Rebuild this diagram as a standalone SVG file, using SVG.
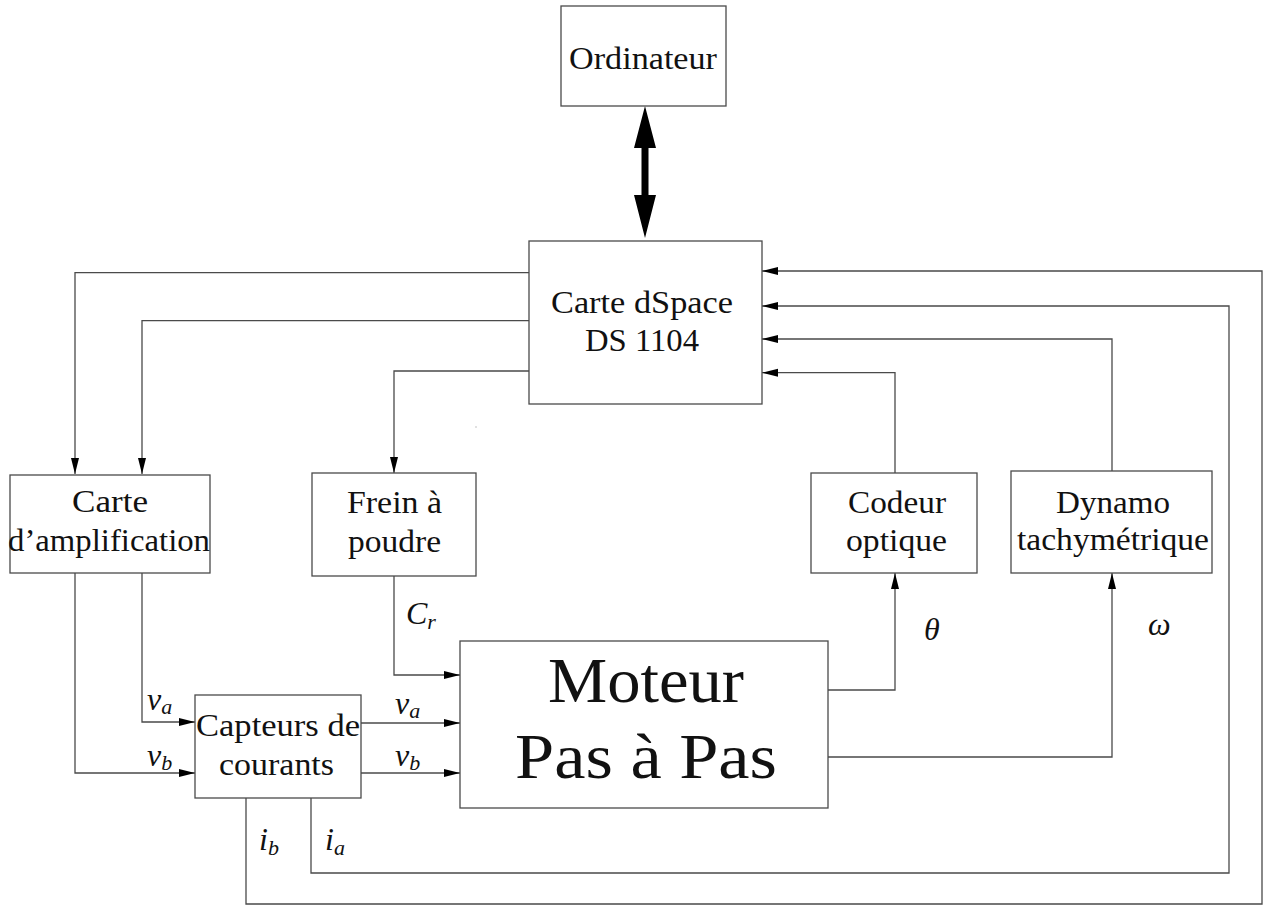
<svg xmlns="http://www.w3.org/2000/svg" width="1264" height="907" viewBox="0 0 1264 907">
<style>
.box{fill:#fff;stroke:#4a4a4a;stroke-width:1.3}
.lbl{font-family:"Liberation Serif","Times New Roman",serif;font-size:32px;fill:#111}
.big{font-family:"Liberation Serif","Times New Roman",serif;font-size:64px;fill:#111}
.m{font-family:"Liberation Serif","Times New Roman",serif;font-size:32px;font-style:italic;fill:#111}
.sub{font-size:22px}
.w{fill:none;stroke:#4a4a4a;stroke-width:1.3}
</style>
<defs>
<marker id="ah" markerUnits="userSpaceOnUse" markerWidth="17" markerHeight="9" refX="16" refY="4" orient="auto">
<path d="M0,0 L16,4 L0,8 z" fill="#000"/>
</marker>
</defs>
<rect width="1264" height="907" fill="#fff"/>
<g id="connectors">
<polygon points="645,106 656,148 648.5,148 648.5,195 656,195 645,238 634,195 641.5,195 641.5,148 634,148" fill="#000"/>
<polyline class="w" points="529,272.7 75,272.7 75,474" marker-end="url(#ah)"/>
<polyline class="w" points="529,320.7 142,320.7 142,474" marker-end="url(#ah)"/>
<polyline class="w" points="529,371 394,371 394,473" marker-end="url(#ah)"/>
<polyline class="w" points="75,573 75,773 195,773" marker-end="url(#ah)"/>
<polyline class="w" points="142,573 142,722 195,722" marker-end="url(#ah)"/>
<polyline class="w" points="361,723 460,723" marker-end="url(#ah)"/>
<polyline class="w" points="361,773 460,773" marker-end="url(#ah)"/>
<polyline class="w" points="394,576 394,675 460,675" marker-end="url(#ah)"/>
<polyline class="w" points="828,690 895,690 895,573" marker-end="url(#ah)"/>
<polyline class="w" points="828,757 1112,757 1112,573" marker-end="url(#ah)"/>
<polyline class="w" points="895,473 895,372.7 762,372.7" marker-end="url(#ah)"/>
<polyline class="w" points="1112,471 1112,339 762,339" marker-end="url(#ah)"/>
<polyline class="w" points="311,798 311,873 1229,873 1229,306 762,306" marker-end="url(#ah)"/>
<polyline class="w" points="246,798 246,904 1262,904 1262,271 762,271" marker-end="url(#ah)"/>
<rect x="475.5" y="426.5" width="1" height="1" fill="#888"/>
</g>
<g id="labels">
<text class="m" x="147" y="710">v<tspan class="sub" dy="4">a</tspan></text>
<text class="m" x="147" y="766">v<tspan class="sub" dy="4">b</tspan></text>
<text class="m" x="395" y="714">v<tspan class="sub" dy="4">a</tspan></text>
<text class="m" x="395" y="766">v<tspan class="sub" dy="4">b</tspan></text>
<text class="m" x="406" y="624">C<tspan class="sub" dy="5">r</tspan></text>
<text class="m" x="259" y="850">i<tspan class="sub" dy="5">b</tspan></text>
<text class="m" x="325" y="850">i<tspan class="sub" dy="5">a</tspan></text>
<text class="m" x="924" y="640">θ</text>
<text class="m" x="1148" y="635">ω</text>
</g>
<g id="ordinateur">
<rect class="box" x="561" y="6" width="165" height="100"/>
<text class="lbl" x="569" y="69" textLength="148" lengthAdjust="spacingAndGlyphs">Ordinateur</text>
</g>
<g id="dspace">
<rect class="box" x="529" y="241" width="233" height="163"/>
<text class="lbl" x="551" y="313" textLength="182" lengthAdjust="spacingAndGlyphs">Carte dSpace</text>
<text class="lbl" x="585" y="351" textLength="114" lengthAdjust="spacingAndGlyphs">DS 1104</text>
</g>
<g id="amplification">
<rect class="box" x="10" y="475" width="200" height="98"/>
<text class="lbl" x="72" y="512" textLength="76" lengthAdjust="spacingAndGlyphs">Carte</text>
<text class="lbl" x="8" y="551" textLength="202" lengthAdjust="spacingAndGlyphs">d’amplification</text>
</g>
<g id="frein">
<rect class="box" x="312" y="473" width="164" height="103"/>
<text class="lbl" x="347" y="513" textLength="95" lengthAdjust="spacingAndGlyphs">Frein à</text>
<text class="lbl" x="348" y="552" textLength="93" lengthAdjust="spacingAndGlyphs">poudre</text>
</g>
<g id="codeur">
<rect class="box" x="811" y="473" width="166" height="100"/>
<text class="lbl" x="848" y="513" textLength="98" lengthAdjust="spacingAndGlyphs">Codeur</text>
<text class="lbl" x="846" y="551" textLength="101" lengthAdjust="spacingAndGlyphs">optique</text>
</g>
<g id="dynamo">
<rect class="box" x="1011" y="471" width="201" height="102"/>
<text class="lbl" x="1056" y="513" textLength="114" lengthAdjust="spacingAndGlyphs">Dynamo</text>
<text class="lbl" x="1017" y="550" textLength="192" lengthAdjust="spacingAndGlyphs">tachymétrique</text>
</g>
<g id="capteurs">
<rect class="box" x="195" y="695" width="166" height="103"/>
<text class="lbl" x="196" y="736" textLength="164" lengthAdjust="spacingAndGlyphs">Capteurs de</text>
<text class="lbl" x="219" y="775" textLength="115" lengthAdjust="spacingAndGlyphs">courants</text>
</g>
<g id="moteur">
<rect class="box" x="460" y="641" width="368" height="167"/>
<text class="big" x="548" y="702" textLength="196" lengthAdjust="spacingAndGlyphs">Moteur</text>
<text class="big" x="515" y="778" textLength="262" lengthAdjust="spacingAndGlyphs">Pas à Pas</text>
</g>
</svg>
